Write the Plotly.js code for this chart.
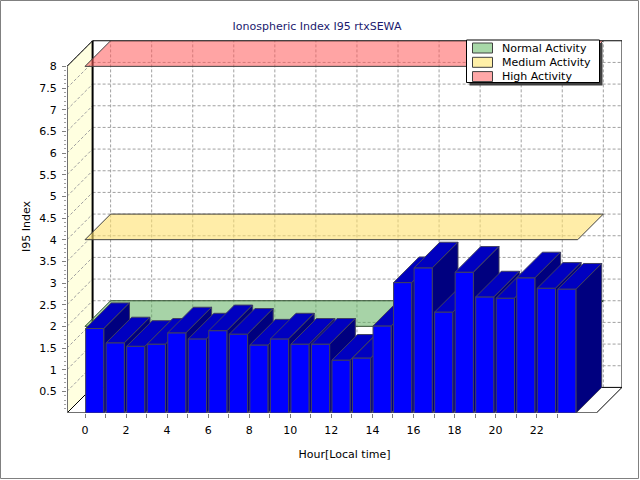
<!DOCTYPE html>
<html>
<head>
<meta charset="utf-8">
<script src="https://cdn.plot.ly/plotly-3.0.1.min.js"></script>
<style>
body { margin: 0; background: #fff; }
#chart { width: 640px; height: 480px; }
</style>
</head>
<body>
<div id="chart"></div>
<script>
// values
const hours = [0, 1, 2, 3, 4, 5, 6, 7, 8, 9, 10, 11, 12, 13, 14, 15, 16, 17, 18, 19, 20, 21, 22, 23];
const i95 = [1.95, 1.62, 1.54, 1.59, 1.85, 1.71, 1.90, 1.82, 1.57, 1.71, 1.59, 1.59,
             1.22, 1.27, 2.01, 3.01, 3.35, 2.33, 3.25, 2.68, 2.65, 3.12, 2.88, 2.86];
const levelNames = ['Normal Activity', 'Medium Activity', 'High Activity'];
const levelValues = [2, 4, 8];
const xTickVals = [0, 2, 4, 6, 8, 10, 12, 14, 16, 18, 20, 22];
const xMinorVals = [1, 3, 5, 7, 9, 11, 13, 15, 17, 19, 21, 23];
const yTickVals = [0.5, 1, 1.5, 2, 2.5, 3, 3.5, 4, 4.5, 5, 5.5, 6, 6.5, 7, 7.5, 8];
const yTickText = ['0.5', '1', '1.5', '2', '2.5', '3', '3.5', '4', '4.5', '5', '5.5', '6', '6.5', '7', '7.5', '8'];

// pseudo 3d geometry
const W = 640, H = 480, ML = 67, MR = 18, MT = 40, MB = 67;
const hourPx = 20.53, unitPx = 43.33, depthPx = 25.6;
const dx = depthPx / hourPx, dy = depthPx / unitPx;
const plotW = W - ML - MR, plotH = H - MT - MB;
const xMin = (ML - 85) / hourPx, xMax = xMin + plotW / hourPx;
const yMax = plotH / unitPx;
const xFront = xMax - dx;
const yTop = yTickVals[yTickVals.length - 1];
const xEnd = hours[hours.length - 1] + 1;

const FONT = 'DejaVu Sans, Verdana, sans-serif';
const levelColors = {
    'Normal Activity': { fill: 'rgba(95,175,95,0.55)', line: '#2f4f2f', icon: '#a8d8a8' },
    'Medium Activity': { fill: 'rgba(255,225,110,0.6)', line: '#404040', icon: '#fff0a8' },
    'High Activity': { fill: 'rgba(255,90,90,0.55)', line: '#404040', icon: '#ffa8a8' }
};

function poly(xs, ys, fill, line, width) {
    return {
        x: xs.concat([xs[0]]),
        y: ys.concat([ys[0]]),
        type: 'scatter',
        mode: 'lines',
        fill: 'toself',
        fillcolor: fill,
        line: { color: line, width: width },
        hoverinfo: 'skip',
        showlegend: false
    };
}

function segments(list, color, width, dash) {
    let xs = [], ys = [];
    list.forEach(s => {
        xs.push(s[0], s[2], null);
        ys.push(s[1], s[3], null);
    });
    return {
        x: xs, y: ys,
        type: 'scatter',
        mode: 'lines',
        line: { color: color, width: width, dash: dash || 'solid' },
        hoverinfo: 'skip',
        showlegend: false
    };
}

let traces = [];

// left wall
traces.push(poly([xMin, xMin, xMin + dx, xMin + dx], [0, yTop, yTop + dy, dy], '#ffffe0', 'rgba(0,0,0,0)', 0));

// grid on back wall and left wall
let grid = [];
yTickVals.forEach(v => {
    if (v < yTop) {
        grid.push([xMin + dx, v + dy, xMax, v + dy]);
    }
    grid.push([xMin, v, xMin + dx, v + dy]);
});
for (let h = 0; h <= xEnd; h += 2) {
    grid.push([h + dx, dy, h + dx, yTop + dy]);
}
traces.push(segments(grid, '#a0a0a0', 1, '3px,2px'));

// box edges
traces.push(segments([
    [xMin, yTop, xMin + dx, yTop + dy],
    [xMin + dx, yTop + dy, xMax, yTop + dy],
    [xMax, dy, xMax, yTop + dy],
    [xMin + dx, dy, xMax, dy],
    [xMin, 0, xMin + dx, dy],
    [xFront, 0, xMax, dy]
], '#000000', 1));
traces.push(segments([[xMin + dx, dy, xMin + dx, yTop + dy]], '#000000', 2));
traces.push(segments([[xMin, 0, xMin, yTop], [xMin, 0, xFront, 0]], '#707070', 2));

// activity levels as flat planes
levelNames.forEach((name, i) => {
    let v = levelValues[i];
    traces.push(poly([0, xEnd, xEnd + dx, dx], [v, v, v + dy, v + dy],
        levelColors[name].fill, levelColors[name].line, 1));
});

// bars, left to right so the next bar hides the previous side face
hours.forEach((h, i) => {
    let v = i95[i];
    let xl = h + 0.03, xr = h + 0.92;
    traces.push(poly([xl, xr, xr, xl], [0, 0, v, v], '#0000ff', '#404060', 1));
    traces.push(poly([xl, xr, xr + dx, xl + dx], [v, v, v + dy, v + dy], '#0000c0', '#404060', 1));
    traces.push(poly([xr, xr + dx, xr + dx, xr], [0, dy, v + dy, v], '#00007f', '#404060', 1));
});

let yMinor = [];
for (let k = 1; k <= 80; k++) {
    if (k % 5) yMinor.push(k / 10);
}

// px -> paper helpers for the frame and the legend box
const px = x => (x - ML) / plotW;
const py = y => (H - MB - y) / plotH;

let shapes = [
    { type: 'rect', xref: 'paper', yref: 'paper', layer: 'above',
      x0: px(469.5), x1: px(602.5), y0: py(85.5), y1: py(43),
      fillcolor: '#404040', line: { width: 0 } },
    { type: 'rect', xref: 'paper', yref: 'paper', layer: 'above',
      x0: px(466.5), x1: px(599.5), y0: py(82.5), y1: py(40),
      fillcolor: '#ffffff', line: { color: '#000000', width: 1 } },
    { type: 'rect', xref: 'paper', yref: 'paper', layer: 'above',
      x0: px(0.5), x1: px(638.5), y0: py(478.5), y1: py(0.5),
      line: { color: '#808080', width: 1 } }
];
let annotations = [];
levelNames.forEach((name, i) => {
    let cy = 48 + i * 14.3;
    shapes.push({ type: 'rect', xref: 'paper', yref: 'paper', layer: 'above',
        x0: px(472.5), x1: px(492.5), y0: py(cy + 5), y1: py(cy - 5),
        fillcolor: levelColors[name].icon, line: { color: '#404040', width: 1 } });
    annotations.push({ xref: 'paper', yref: 'paper', x: px(500), y: py(cy),
        xanchor: 'left', yanchor: 'middle', showarrow: false, text: name,
        font: { family: FONT, size: 11, color: '#000000' } });
});

let layout = {
    width: W,
    height: H,
    margin: { l: ML, r: MR, t: MT, b: MB },
    paper_bgcolor: '#ffffff',
    plot_bgcolor: '#ffffff',
    font: { family: FONT, size: 11, color: '#000000' },
    title: {
        text: 'Ionospheric Index I95 rtxSEWA',
        font: { family: FONT, size: 11, color: '#1a1a6e' },
        xref: 'container', yref: 'container',
        x: 317 / W, y: 1 - 26 / H,
        xanchor: 'center', yanchor: 'middle'
    },
    xaxis: {
        range: [xMin, xMax],
        showgrid: false, zeroline: false, showline: false,
        tickmode: 'array', tickvals: xTickVals,
        ticks: 'outside', ticklen: 4, tickcolor: '#808080',
        ticklabelstandoff: 3,
        minor: { tickmode: 'array', tickvals: xMinorVals, ticks: 'outside', ticklen: 4, tickcolor: '#808080' },
        tickfont: { family: FONT, size: 11 },
        title: { text: 'Hour[Local time]', font: { family: FONT, size: 11 }, standoff: 14 },
        fixedrange: true
    },
    yaxis: {
        range: [0, yMax],
        showgrid: false, zeroline: false, showline: false,
        tickmode: 'array', tickvals: yTickVals, ticktext: yTickText,
        ticks: 'outside', ticklen: 4, tickcolor: '#808080',
        ticklabelstandoff: 3,
        minor: { tickmode: 'array', tickvals: yMinor, ticks: 'outside', ticklen: 2, tickcolor: '#a0a0a0' },
        tickfont: { family: FONT, size: 11 },
        title: { text: 'I95 Index', font: { family: FONT, size: 11 }, standoff: 6 },
        fixedrange: true
    },
    shapes: shapes,
    annotations: annotations,
    showlegend: false
};

Plotly.newPlot('chart', traces, layout, { staticPlot: true, displayModeBar: false });
</script>
</body>
</html>
